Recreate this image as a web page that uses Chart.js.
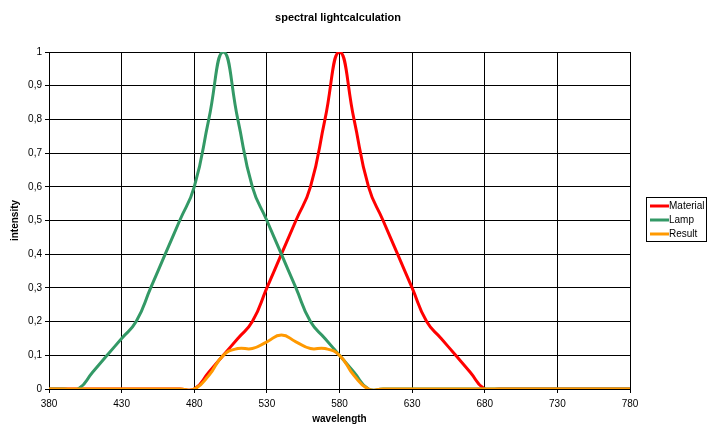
<!DOCTYPE html>
<html>
<head>
<meta charset="utf-8">
<script src="https://cdn.jsdelivr.net/npm/chart.js@4"></script>
<style>
  html, body { margin: 0; padding: 0; background: #fff; }
  #wrap { width: 707px; height: 424px; }
</style>
</head>
<body>
<div id="wrap"><canvas id="grafico" width="707" height="424"></canvas></div>
<script>
// ---------- Dados ----------
const wavelengths = [380, 390, 400, 410, 420, 430, 440, 450, 460, 470,
    480, 490, 500, 510, 520, 530, 540, 550, 560, 570,
    580, 590, 600, 610, 620, 630, 640, 650, 660, 670,
    680, 690, 700, 710, 720, 730, 740, 750, 760, 770, 780];

const material = [0, 0, 0, 0, 0, 0, 0, 0, 0, 0,
    0, 0.05, 0.1, 0.15, 0.2, 0.3, 0.4, 0.5, 0.6, 0.8,
    1, 0.8, 0.6, 0.5, 0.4, 0.3, 0.2, 0.15, 0.1, 0.05,
    0, 0, 0, 0, 0, 0, 0, 0, 0, 0, 0];

const lamp = [0, 0, 0, 0.05, 0.1, 0.15, 0.2, 0.3, 0.4, 0.5,
    0.6, 0.8, 1, 0.8, 0.6, 0.5, 0.4, 0.3, 0.2, 0.15,
    0.1, 0.05, 0, 0, 0, 0, 0, 0, 0, 0,
    0, 0, 0, 0, 0, 0, 0, 0, 0, 0, 0];

const result = [0, 0, 0, 0, 0, 0, 0, 0, 0, 0,
    0, 0.04, 0.1, 0.12, 0.12, 0.14, 0.16, 0.14, 0.12, 0.12,
    0.1, 0.04, 0, 0, 0, 0, 0, 0, 0, 0,
    0, 0, 0, 0, 0, 0, 0, 0, 0, 0, 0];

const seriesNames = ['Material', 'Lamp', 'Result'];
const seriesColors = ['#ff0000', '#339966', '#ff9900'];
const xTicks = { min: 380, max: 780, step: 50 };
const yTicks = { min: 0, max: 1, step: 0.1 };

function pontos(valores) {
    return wavelengths.map((w, i) => ({ x: w, y: valores[i] }));
}

// ---------- Textos e legenda desenhados à mão ----------
const textosPlugin = {
    id: 'textos',
    afterDraw(chart) {
        const ctx = chart.ctx;
        const area = chart.chartArea;
        ctx.save();
        ctx.fillStyle = '#000';
        ctx.textAlign = 'center';
        ctx.textBaseline = 'middle';

        // título
        ctx.font = 'bold 11px "Liberation Sans", Arial, sans-serif';
        ctx.fillText('spectral lightcalculation', 338, 18);

        // eixo x
        ctx.font = 'bold 10px "Liberation Sans", Arial, sans-serif';
        ctx.fillText('wavelength', (area.left + area.right) / 2, 419);

        // eixo y
        ctx.save();
        ctx.translate(15, (area.top + area.bottom) / 2);
        ctx.rotate(-Math.PI / 2);
        ctx.fillText('intensity', 0, 0);
        ctx.restore();

        // legenda
        ctx.strokeStyle = '#000';
        ctx.lineWidth = 1;
        ctx.strokeRect(646.5, 197.5, 60, 44);
        ctx.font = '10px "Liberation Sans", Arial, sans-serif';
        ctx.textAlign = 'left';
        seriesNames.forEach((nome, i) => {
            const y = 206 + i * 14;
            ctx.strokeStyle = seriesColors[i];
            ctx.lineWidth = 3;
            ctx.beginPath();
            ctx.moveTo(650, y);
            ctx.lineTo(669, y);
            ctx.stroke();
            ctx.fillStyle = '#000';
            ctx.fillText(nome, 669, y + 0.5);
        });
        ctx.restore();
    }
};

// ---------- Gráfico ----------
const ctx = document.getElementById('grafico').getContext('2d');
new Chart(ctx, {
    type: 'line',
    data: {
        datasets: [
            { label: seriesNames[0], data: pontos(material), borderColor: seriesColors[0], order: 2 },
            { label: seriesNames[1], data: pontos(lamp), borderColor: seriesColors[1], order: 1 },
            { label: seriesNames[2], data: pontos(result), borderColor: seriesColors[2], order: 0 }
        ]
    },
    options: {
        responsive: false,
        animation: false,
        layout: { padding: { left: 0, right: 77, top: 52, bottom: 0 } },
        elements: {
            point: { radius: 0 },
            line: { borderWidth: 3, tension: 0.5, capBezierPoints: false, fill: false }
        },
        plugins: {
            legend: { display: false },
            title: { display: false },
            tooltip: { enabled: false }
        },
        scales: {
            x: {
                type: 'linear',
                min: xTicks.min,
                max: xTicks.max,
                afterFit: s => { s.height = 35; },
                ticks: {
                    stepSize: xTicks.step,
                    color: '#000',
                    padding: 5,
                    maxRotation: 0,
                    font: { family: '"Liberation Sans", Arial, sans-serif', size: 10 }
                },
                grid: { color: '#000', lineWidth: 1, tickLength: 4 },
                border: { color: '#000' }
            },
            y: {
                min: yTicks.min,
                max: yTicks.max,
                afterFit: s => { s.width = 49; },
                ticks: {
                    stepSize: yTicks.step,
                    color: '#000',
                    padding: 3,
                    font: { family: '"Liberation Sans", Arial, sans-serif', size: 10 },
                    callback: v => (v === 0 ? '0' : v === 1 ? '1' : v.toFixed(1).replace('.', ','))
                },
                grid: { color: '#000', lineWidth: 1, tickLength: 4 },
                border: { color: '#000' }
            }
        }
    },
    plugins: [textosPlugin]
});
</script>
</body>
</html>
